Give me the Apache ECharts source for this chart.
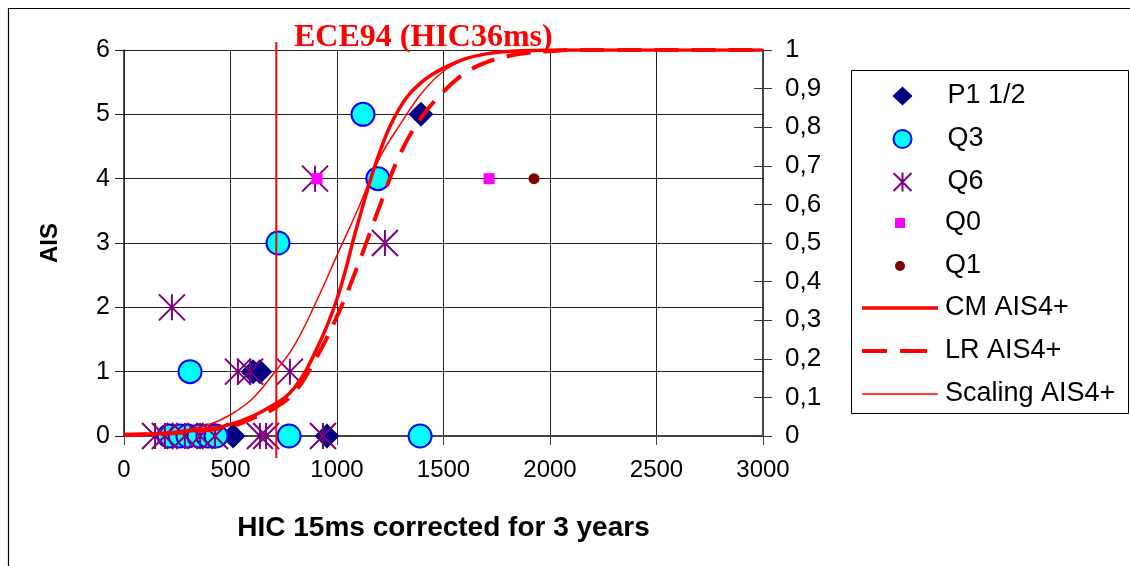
<!DOCTYPE html>
<html><head><meta charset="utf-8">
<script src="https://cdn.jsdelivr.net/npm/echarts@6/dist/echarts.min.js"></script>
<style>html,body{margin:0;padding:0;background:#fff}#c{width:1130px;height:566px}</style>
</head><body><div id="c"></div>
<script>
// ---- data (HIC, AIS) ----
const p1 = [[1394,5],[606,1],[638,1],[512,0],[953,0]];
const q3 = [[1122,5],[1192,4],[723,3],[310,1],[211,0],[263,0],[300,0],[352,0],[394,0],[432,0],[775,0],[1390,0]];
const q6 = [[897,4],[1225,3],[225,2],[535,1],[592,1],[779,1],[146,0],[192,0],[286,0],[357,0],[427,0],[638,0],[667,0],[934,0]];
const q0 = [[906,4],[1714,4]];
const q1 = [[1925,4]];
// ---- probability curves (HIC, P) on right axis ----
const cm = [[0,0.003],[250,0.01],[500,0.03],[700,0.08],[800,0.125],[900,0.22],[1000,0.355],[1100,0.555],[1200,0.735],[1300,0.855],[1400,0.918],[1500,0.953],[1600,0.977],[1700,0.99],[1800,0.996],[1900,0.999],[2000,1],[3000,1]];
const lr = [[0,0.003],[250,0.008],[500,0.025],[600,0.045],[700,0.07],[800,0.113],[900,0.2],[1000,0.31],[1100,0.445],[1200,0.595],[1300,0.735],[1400,0.828],[1500,0.892],[1600,0.94],[1700,0.968],[1800,0.984],[1900,0.993],[2000,0.997],[2100,1],[3000,1]];
const scaling = [[0,0.003],[250,0.012],[400,0.03],[500,0.055],[600,0.095],[700,0.16],[800,0.235],[900,0.345],[1000,0.468],[1100,0.59],[1200,0.72],[1300,0.81],[1400,0.89],[1500,0.945],[1600,0.975],[1700,0.99],[1800,0.997],[1900,1],[3000,1]];
const ece94 = 715;
const ece94Span = [-0.057, 1.021];
const xTicks = {min:0, max:3000, interval:500};
const aisTicks = {min:0, max:6, interval:1};
const probTicks = {min:0, max:1, interval:0.1};

const F = 'Liberation Sans, Arial, sans-serif';
const asterisk = 'path://M0,0L10,10M10,0L0,10M5,0L5,10';
// legend icons: bounding box fixed by moveTo points so the mark sits centred in its slot
const legDiamond = 'path://M0,0M76,19M38,0L48,9.5L38,19L28,9.5Z';
const legCircle = 'path://M0,0M76,19M29,9.5A9,9,0,1,1,47,9.5A9,9,0,1,1,29,9.5Z';
const legAster = 'path://M0,0M76,19M29,0.5L47,18.5M47,0.5L29,18.5M38,0L38,19';
const legSquare = 'path://M0,0M76,10M33,0H43V10H33Z';
const legDot = 'path://M0,0M76,10M33,5A5,5,0,1,1,43,5A5,5,0,1,1,33,5Z';
const legSolid = 'path://M0,0M76,14M0,5.25H76V8.75H0Z';
const legDash = 'path://M0,0M76,14M0,5H25V9H0ZM38,5H65V9H38Z';
const legThin = 'path://M0,0M76,14M0,6.3H76V7.7H0Z';
const chart = echarts.init(document.getElementById('c'));
const legendBase = {orient:'vertical', left:862, itemWidth:76, padding:0, itemGap:13, symbolKeepAspect:false,
  textStyle:{fontFamily:F, fontSize:27, color:'#000', lineHeight:30, padding:[0,0,0,2]}};
chart.setOption({
  animation:false,
  backgroundColor:'#fff',
  title:{text:'ECE94 (HIC36ms)', left:289, top:17,
    textStyle:{fontFamily:'Liberation Serif, Times New Roman, serif', fontWeight:'bold', fontSize:32, color:'#ff0000'}},
  graphic:[
    {type:'rect', shape:{x:8.5,y:8.5,width:1140,height:600}, style:{fill:'none', stroke:'#000', lineWidth:1.2}, silent:true, z:-10},
    {type:'rect', shape:{x:851.5,y:70.5,width:277,height:343}, style:{fill:'#fff', stroke:'#000', lineWidth:1}, silent:true, z:-5}
  ],
  legend:[
    Object.assign({}, legendBase, {top:81, itemHeight:19, data:[
      {name:'P1 1/2', icon:legDiamond},
      {name:'Q3', icon:legCircle},
      {name:'Q6', icon:legAster}]}),
    Object.assign({}, legendBase, {top:208, itemHeight:10, data:[
      {name:'Q0', icon:legSquare},
      {name:'Q1', icon:legDot}]}),
    Object.assign({}, legendBase, {top:293, itemHeight:14, data:[
      {name:'CM AIS4+', icon:legSolid},
      {name:'LR AIS4+', icon:legDash},
      {name:'Scaling AIS4+', icon:legThin}]})
  ],
  grid:{left:124, right:367, top:50, bottom:130},
  xAxis:{type:'value', min:xTicks.min, max:xTicks.max, interval:xTicks.interval,
    name:'HIC 15ms corrected for 3 years', nameLocation:'middle', nameGap:78,
    nameTextStyle:{fontFamily:F, fontWeight:'bold', fontSize:28, color:'#000'},
    axisLine:{show:true, onZero:false, lineStyle:{color:'#444', width:2}},
    axisTick:{show:true, length:9, lineStyle:{color:'#444'}},
    axisLabel:{fontFamily:F, fontSize:24, color:'#000', margin:22, formatter:v=>String(v)},
    splitLine:{show:true, lineStyle:{color:'#222', width:1}}},
  yAxis:[
    {type:'value', position:'left', min:aisTicks.min, max:aisTicks.max, interval:aisTicks.interval,
      name:'AIS', nameLocation:'middle', nameGap:62, nameRotate:90,
      nameTextStyle:{fontFamily:F, fontWeight:'bold', fontSize:24, color:'#000'},
      axisLine:{show:true, lineStyle:{color:'#222', width:1.5}},
      axisTick:{show:true, length:9, lineStyle:{color:'#222'}},
      axisLabel:{fontFamily:F, fontSize:25, color:'#000', margin:14},
      splitLine:{show:true, lineStyle:{color:'#222', width:1}}},
    {type:'value', position:'right', min:probTicks.min, max:probTicks.max, interval:probTicks.interval,
      axisLine:{show:true, lineStyle:{color:'#444', width:2}},
      axisTick:{show:true, length:9, lineStyle:{color:'#333'}},
      axisLabel:{fontFamily:F, fontSize:26, color:'#000', margin:22,
        formatter:v=>String(Math.round(v*10)/10).replace('.',',')},
      splitLine:{show:false}},
    {type:'value', position:'right', min:probTicks.min, max:probTicks.max, interval:probTicks.interval,
      axisLine:{show:false}, axisLabel:{show:false}, splitLine:{show:false},
      axisTick:{show:true, inside:true, length:9, lineStyle:{color:'#333'}}}
  ],
  series:[
    {name:'P1 1/2', type:'scatter', data:p1, symbol:'diamond', symbolSize:25, itemStyle:{color:'#000080', opacity:1}, z:3},
    {name:'Q3', type:'scatter', data:q3, symbol:'circle', symbolSize:23, itemStyle:{color:'#00ffff', borderColor:'#0000ff', borderWidth:2, opacity:1}, z:3},
    {name:'Q6', type:'scatter', data:q6, symbol:asterisk, symbolSize:26, itemStyle:{color:'none', borderColor:'#800080', borderWidth:2, opacity:1}, z:3},
    {name:'Q0', type:'scatter', data:q0, symbol:'rect', symbolSize:11, itemStyle:{color:'#ff00ff', opacity:1}, z:4},
    {name:'Q1', type:'scatter', data:q1, symbol:'circle', symbolSize:11, itemStyle:{color:'#800000', opacity:1}, z:4},
    {name:'CM AIS4+', type:'line', yAxisIndex:1, data:cm, smooth:0.4, symbol:'none', lineStyle:{color:'#ff0000', width:3.5}, itemStyle:{color:'#ff0000'}, z:5},
    {name:'LR AIS4+', type:'line', yAxisIndex:1, data:lr, smooth:0.4, symbol:'none', lineStyle:{color:'#ff0000', width:4, type:[24,13]}, itemStyle:{color:'#ff0000'}, z:5},
    {name:'Scaling AIS4+', type:'line', yAxisIndex:1, data:scaling, smooth:0.4, symbol:'none', lineStyle:{color:'#ff0000', width:1.5}, itemStyle:{color:'#ff0000'}, z:5},
    {name:'ECE94', type:'line', yAxisIndex:1, data:[[ece94,ece94Span[0]],[ece94,ece94Span[1]]], clip:false, symbol:'none', lineStyle:{color:'#ff0000', width:2}, z:6}
  ]
});
</script></body></html>
